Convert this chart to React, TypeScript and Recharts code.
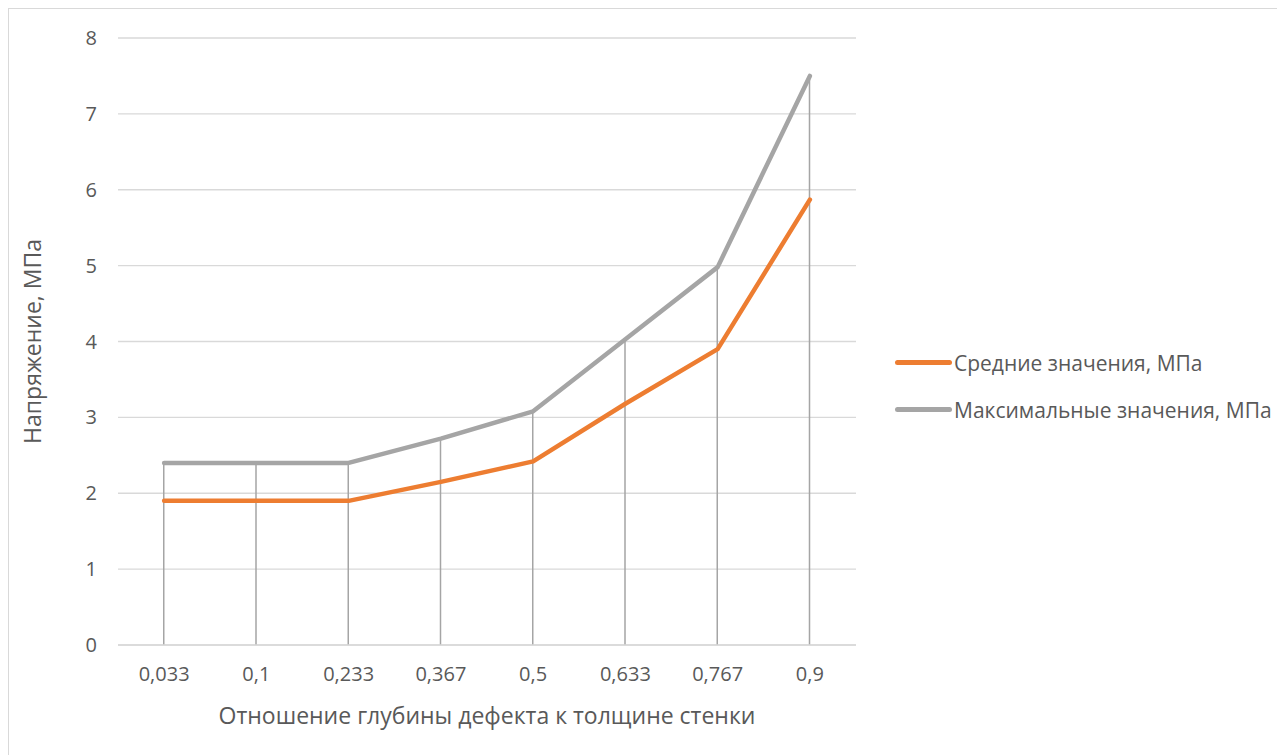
import {
  Bar,
  CartesianGrid,
  ComposedChart,
  Legend,
  Line,
  XAxis,
  YAxis,
} from "recharts";

const ratios = ["0,033", "0,1", "0,233", "0,367", "0,5", "0,633", "0,767", "0,9"];
const meanValues = [1.9, 1.9, 1.9, 2.15, 2.42, 3.18, 3.9, 5.87];
const maxValues = [2.4, 2.4, 2.4, 2.72, 3.08, 4.03, 4.98, 7.5];
const yTicks = [0, 1, 2, 3, 4, 5, 6, 7, 8];

const ORANGE = "#ed7d31";
const GRAY = "#a5a5a5";
const TEXT = "#595959";
const FONT = "'Open Sans', sans-serif";

const data = ratios.map((r, i) => ({
  ratio: r,
  mean: meanValues[i],
  max: maxValues[i],
  drop: maxValues[i],
}));

const legendItems = [
  { name: "Средние значения, МПа", color: ORANGE },
  { name: "Максимальные значения, МПа", color: GRAY },
];

function LegendBox() {
  return (
    <div style={{ fontFamily: FONT, fontSize: 21, color: TEXT }}>
      {legendItems.map((it) => (
        <div
          key={it.name}
          style={{ display: "flex", alignItems: "center", height: 47 }}
        >
          <span
            style={{
              display: "inline-block",
              width: 57,
              height: 4.5,
              borderRadius: 3,
              background: it.color,
              marginRight: 2,
            }}
          />
          <span>{it.name}</span>
        </div>
      ))}
    </div>
  );
}

export default function App() {
  return (
    <div
      style={{
        width: 1277,
        height: 747,
        border: "1px solid #d9d9d9",
        background: "#fff",
        fontFamily: FONT,
      }}
    >
      <ComposedChart
        width={1277}
        height={747}
        data={data}
        margin={{ top: 29, right: 430, bottom: 11, left: 49 }}
      >
        <CartesianGrid vertical={false} stroke="#d9d9d9" strokeWidth={1.3} />
        <XAxis
          dataKey="ratio"
          height={100}
          tickLine={false}
          tickSize={0}
          tickMargin={22}
          axisLine={{ stroke: "#d9d9d9", strokeWidth: 1.3 }}
          tick={{ fill: TEXT, fontSize: 20, fontFamily: FONT }}
          label={{
            value: "Отношение глубины дефекта к толщине стенки",
            position: "insideBottom",
            offset: 21,
            fill: TEXT,
            fontSize: 23,
            fontFamily: FONT,
          }}
        />
        <YAxis
          width={60}
          domain={[0, 8]}
          ticks={yTicks}
          axisLine={false}
          tickLine={false}
          tickSize={0}
          tickMargin={21}
          tick={{ fill: TEXT, fontSize: 20, fontFamily: FONT }}
          label={{
            value: "Напряжение, МПа",
            angle: -90,
            position: "left",
            offset: 25,
            fill: TEXT,
            fontSize: 23,
            fontFamily: FONT,
            style: { textAnchor: "middle" },
          }}
        />
        <Bar
          dataKey="drop"
          barSize={1.5}
          fill={GRAY}
          isAnimationActive={false}
          legendType="none"
        />
        <Line
          type="linear"
          dataKey="max"
          stroke={GRAY}
          strokeWidth={4.5}
          strokeLinecap="round"
          strokeLinejoin="round"
          dot={false}
          activeDot={false}
          isAnimationActive={false}
        />
        <Line
          type="linear"
          dataKey="mean"
          stroke={ORANGE}
          strokeWidth={4.5}
          strokeLinecap="round"
          strokeLinejoin="round"
          dot={false}
          activeDot={false}
          isAnimationActive={false}
        />
        <Legend
          layout="vertical"
          align="center"
          verticalAlign="middle"
          content={() => <LegendBox />}
          wrapperStyle={{ left: 886, top: 330, width: 390 }}
        />
      </ComposedChart>
    </div>
  );
}
